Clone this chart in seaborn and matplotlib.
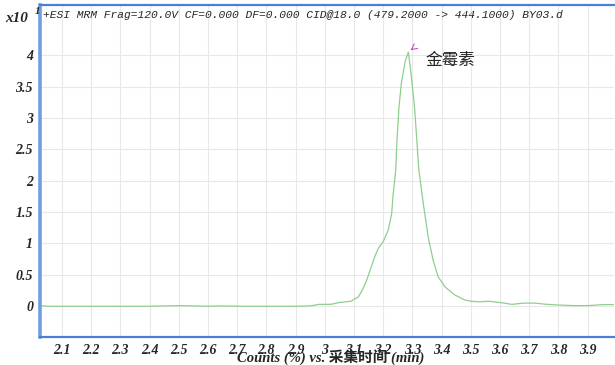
import numpy as np
import pandas as pd
import matplotlib
matplotlib.use('Agg')
import matplotlib.pyplot as plt
import seaborn as sns

sns.set_style('white')
plt.rcParams['font.family'] = ['Liberation Serif', 'Noto Sans CJK SC', 'DejaVu Sans']

tiempo = [2.025, 2.05, 2.2, 2.4, 2.45, 2.5, 2.55, 2.6, 2.65, 2.7, 2.9, 2.95, 2.98,
          3.02, 3.05, 3.07, 3.09, 3.10, 3.115, 3.13, 3.143, 3.157, 3.171, 3.183,
          3.20, 3.217, 3.229, 3.234, 3.243, 3.247, 3.254, 3.262, 3.275, 3.286,
          3.295, 3.307, 3.315, 3.322, 3.337, 3.354, 3.371, 3.388, 3.411, 3.445,
          3.479, 3.50, 3.53, 3.56, 3.60, 3.64, 3.68, 3.72, 3.76, 3.80, 3.85, 3.90,
          3.95, 3.99]
counts = [0.01, 0.0, 0.0, 0.0, 0.005, 0.01, 0.005, 0.0, 0.005, 0.0, 0.0, 0.005, 0.03,
          0.03, 0.06, 0.07, 0.08, 0.11, 0.15, 0.27, 0.41, 0.60, 0.79, 0.92,
          1.03, 1.21, 1.48, 1.79, 2.17, 2.65, 3.18, 3.55, 3.90, 4.05,
          3.71, 3.18, 2.65, 2.17, 1.64, 1.10, 0.73, 0.47, 0.31, 0.18,
          0.10, 0.08, 0.07, 0.08, 0.06, 0.03, 0.05, 0.05, 0.03, 0.02, 0.01, 0.01,
          0.025, 0.027]

xticks = [round(2.1 + 0.1 * i, 1) for i in range(19)]
xlabels = ['3' if t == 3.0 else f'{t:.1f}' for t in xticks]
yticks = [0, 0.5, 1, 1.5, 2, 2.5, 3, 3.5, 4]
ylabels = ['0', '0.5', '1', '1.5', '2', '2.5', '3', '3.5', '4']

pico_t, pico_y = 3.286, 4.05
compuesto = '金霉素'
titulo = '+ESI MRM Frag=120.0V CF=0.000 DF=0.000 CID@18.0 (479.2000 -> 444.1000) BY03.d'

df = pd.DataFrame({'t': tiempo, 'c': counts})

fig = plt.figure(figsize=(6.15, 3.65), dpi=100)
ax = fig.add_axes([40 / 615, 28 / 365, 574 / 615, 332 / 365])

sns.lineplot(data=df, x='t', y='c', ax=ax, color='#8fce8f', linewidth=0.9)

ax.set_xlim(2.025, 3.99)
ax.set_ylim(-0.49, 4.80)
ax.set_xticks(xticks)
ax.set_xticklabels(xlabels)
ax.set_yticks(yticks)
ax.set_yticklabels(ylabels)
ax.grid(True, color='#e8e8e8', linewidth=0.8)
ax.set_axisbelow(True)

for lab in ax.get_xticklabels() + ax.get_yticklabels():
    lab.set_fontweight('bold'); lab.set_fontstyle('italic'); lab.set_fontsize(10)
ax.tick_params(axis='both', length=3, width=0.6, color='#555555', pad=2)

for s in ['top', 'bottom']:
    ax.spines[s].set_color('#4a7fd4'); ax.spines[s].set_linewidth(1.6)
ax.spines['left'].set_color('#6f9fe0'); ax.spines['left'].set_linewidth(2.6)
ax.spines['right'].set_visible(False)

ax.set_ylabel('')
ax.set_xlabel('Counts (%) vs. 采集时间 (min)', fontsize=10.5, fontweight='bold',
              fontstyle='italic')
ax.xaxis.set_label_coords(0.507, -0.062)
ax.xaxis.label.set_va('center')

ax.text(0.005, 0.985, titulo, transform=ax.transAxes, va='top', ha='left',
        family=['Liberation Mono'], fontstyle='italic', fontsize=8.1)

# marca del pico
ax.annotate('', xy=(pico_t, pico_y), xytext=(pico_t + 0.022, pico_y + 0.08),
            arrowprops=dict(arrowstyle='->', color='#c050c0', lw=0.8))
ax.text(3.343, 3.92, compuesto, fontsize=12, ha='left', va='center',
        family=['Noto Sans CJK SC'])

fig.text(5 / 615, 1 - 18 / 365, 'x10', fontsize=11, fontweight='bold',
         fontstyle='italic', va='center', ha='left')
fig.text(35 / 615, 1 - 12 / 365, '1', fontsize=8, fontweight='bold',
         fontstyle='italic', va='center', ha='left')

plt.savefig('out.png', dpi=100)
